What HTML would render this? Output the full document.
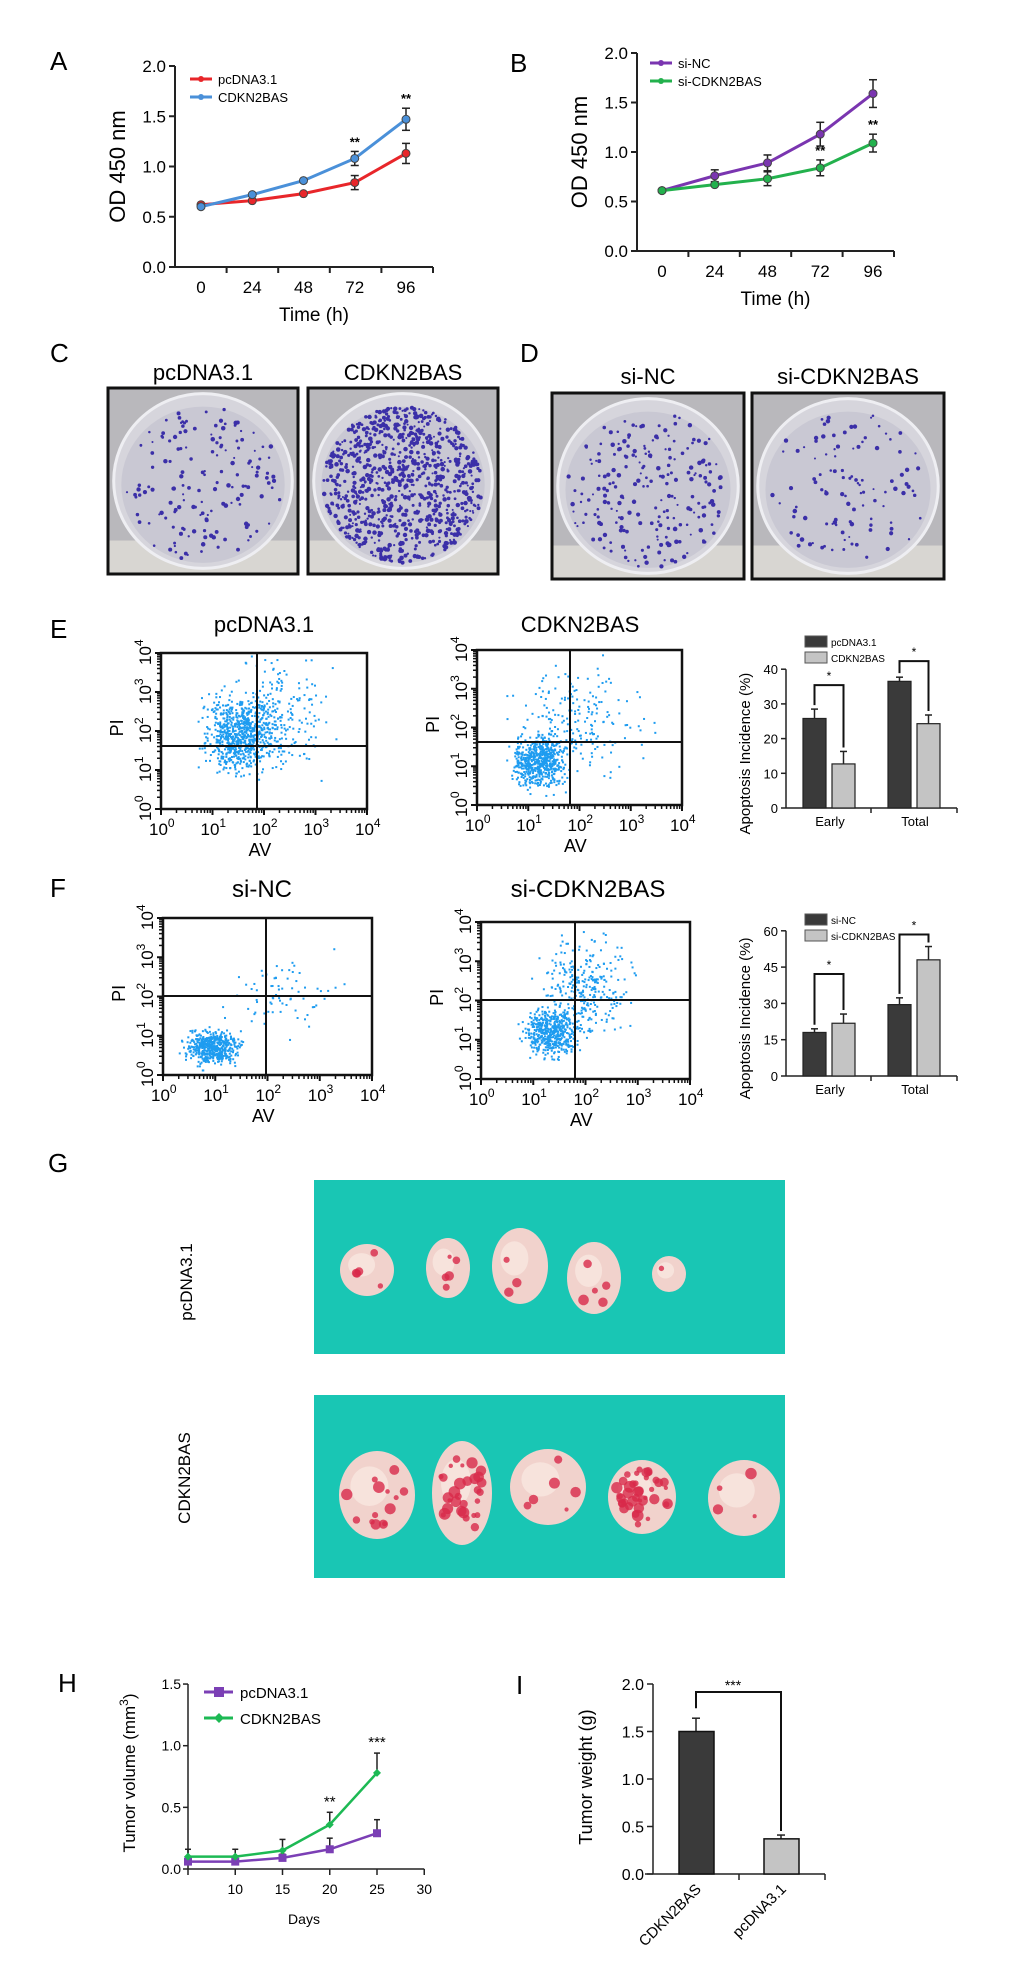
<!DOCTYPE html>
<html><head><meta charset="utf-8"><title>CDKN2BAS figure</title>
<style>
html,body{margin:0;padding:0;background:#fff;}
svg{display:block;font-family:"Liberation Sans",Arial,sans-serif;}
</style></head>
<body>
<svg id="fig" xmlns="http://www.w3.org/2000/svg" width="1020" height="1980" viewBox="0 0 1020 1980">
<rect x="0" y="0" width="1020" height="1980" fill="#fff"/>
<!-- panel letters -->
<text x="50" y="70" font-size="26">A</text>
<text x="510" y="72" font-size="26">B</text>
<text x="50" y="362" font-size="26">C</text>
<text x="520" y="362" font-size="26">D</text>
<text x="50" y="638" font-size="26">E</text>
<text x="50" y="897" font-size="26">F</text>
<text x="48" y="1172" font-size="26">G</text>
<text x="58" y="1692" font-size="26">H</text>
<text x="516" y="1694" font-size="26">I</text>

<!-- C/D titles -->
<text x="203" y="380" font-size="22" text-anchor="middle">pcDNA3.1</text>
<text x="403" y="380" font-size="22" text-anchor="middle">CDKN2BAS</text>
<text x="648" y="384" font-size="22" text-anchor="middle">si-NC</text>
<text x="848" y="384" font-size="22" text-anchor="middle">si-CDKN2BAS</text>
<g id="plates"></g>

<!-- E/F titles -->
<text x="264" y="632" font-size="22" text-anchor="middle">pcDNA3.1</text>
<text x="580" y="632" font-size="22" text-anchor="middle">CDKN2BAS</text>
<text x="262" y="897" font-size="24" text-anchor="middle">si-NC</text>
<text x="588" y="897" font-size="24" text-anchor="middle">si-CDKN2BAS</text>
<g id="flows"></g>

<!-- G photos -->
<text transform="translate(192,1282) rotate(-90)" font-size="17" text-anchor="middle">pcDNA3.1</text>
<text transform="translate(190,1478) rotate(-90)" font-size="17" text-anchor="middle">CDKN2BAS</text>
<rect x="314" y="1180" width="471" height="174" fill="#19c6b4"/>
<rect x="314" y="1395" width="471" height="183" fill="#19c6b4"/>
<g id="tumors"></g>

<g id="charts"></g>
</svg>
<script>
// ===== Data =====
const timeCats = [0, 24, 48, 72, 96];
const odPcdna = [0.62, 0.66, 0.73, 0.84, 1.13];
const odPcdnaErr = [0.02, 0.02, 0.02, 0.07, 0.10];
const odCdkn = [0.60, 0.72, 0.86, 1.08, 1.47];
const odCdknErr = [0.02, 0.02, 0.02, 0.07, 0.11];
const odSiNC = [0.61, 0.76, 0.89, 1.18, 1.59];
const odSiNCErr = [0.02, 0.06, 0.08, 0.12, 0.14];
const odSiCdkn = [0.61, 0.67, 0.73, 0.84, 1.09];
const odSiCdknErr = [0.02, 0.03, 0.07, 0.08, 0.09];
const odTicks = [0.0, 0.5, 1.0, 1.5, 2.0];

const apopCats = ["Early", "Total"];
const apopE_pcdna = [25.8, 36.5];
const apopE_pcdnaErr = [2.7, 1.2];
const apopE_cdkn = [12.7, 24.3];
const apopE_cdknErr = [3.6, 2.5];
const apopETicks = [0, 10, 20, 30, 40];
const apopF_siNC = [18.0, 29.5];
const apopF_siNCErr = [1.5, 2.8];
const apopF_siCdkn = [21.8, 48.0];
const apopF_siCdknErr = [3.8, 5.5];
const apopFTicks = [0, 15, 30, 45, 60];

const dayCats = [5, 10, 15, 20, 25];
const volPcdna = [0.06, 0.06, 0.09, 0.16, 0.29];
const volPcdnaErr = [0.0, 0.0, 0.03, 0.09, 0.11];
const volCdkn = [0.10, 0.10, 0.15, 0.36, 0.78];
const volCdknErr = [0.06, 0.06, 0.09, 0.10, 0.16];
const volTicks = [0.0, 0.5, 1.0, 1.5];
const dayTicks = [10, 15, 20, 25, 30];

const weightCats = ["CDKN2BAS", "pcDNA3.1"];
const weightVals = [1.50, 0.37];
const weightErr = [0.14, 0.04];
const weightTicks = [0.0, 0.5, 1.0, 1.5, 2.0];

// ===== helpers =====
const NS = "http://www.w3.org/2000/svg";
function mk(tag, attrs, parent, text) {
  const e = document.createElementNS(NS, tag);
  for (const k in attrs) e.setAttribute(k, attrs[k]);
  if (text !== undefined) e.textContent = text;
  (parent || document.getElementById('charts')).appendChild(e);
  return e;
}
let seed = 12345;
function rnd() { seed = (seed * 1103515245 + 12345) % 2147483648; return seed / 2147483648; }
function gauss() { return (rnd() + rnd() + rnd() - 1.5) / 0.5; }
const charts = document.getElementById('charts');

// ===== Line charts A & B =====
function lineChart(o) {
  const g = mk('g', {}, charts);
  
  
  const xs = t => o.x0 + t * o.xk;
  const ys = v => o.y0 - v * o.yk;
  const ya = mk('line', {x1: o.ax, y1: ys(2.0), x2: o.ax, y2: o.y0, stroke: '#222', 'stroke-width': 2}, g);
  
  
  const xa = mk('line', {x1: o.ax, y1: o.y0, x2: o.xEnd, y2: o.y0, stroke: '#222', 'stroke-width': 2}, g);
  
  
  odTicks.forEach(v => {
    mk('line', {x1: o.ax - 6, y1: ys(v), x2: o.ax, y2: ys(v), stroke: '#222', 'stroke-width': 2}, g);
    const t = mk('text', {x: o.ax - 9, y: ys(v) + 6, 'font-size': 17, 'text-anchor': 'end'}, g, v.toFixed(1));
    
    
  });
  const step = (o.xEnd - o.ax) / 5;
  for (let i = 1; i <= 5; i++) mk('line', {x1: o.ax + i * step, y1: o.y0, x2: o.ax + i * step, y2: o.y0 + 6, stroke: '#222', 'stroke-width': 2}, g);
  timeCats.forEach(t => {
    const l = mk('text', {x: xs(t), y: o.y0 + 26, 'font-size': 17, 'text-anchor': 'middle'}, g, String(t));
    
    
  });
  const xt = mk('text', {x: (o.ax + o.xEnd) / 2 + 10, y: o.y0 + 54, 'font-size': 19, 'text-anchor': 'middle'}, g, 'Time (h)');
  
  
  const yt = mk('text', {transform: `translate(${o.ax - 50},${(ys(2) + o.y0) / 2}) rotate(-90)`, 'font-size': 22, 'text-anchor': 'middle'}, g, 'OD 450 nm');
  
  
  o.series.forEach((s, si) => {
    const pts = timeCats.map((t, i) => [xs(t), ys(s.vals[i])]);
    const pl = mk('polyline', {points: pts.map(p => p.join(',')).join(' '), fill: 'none', stroke: s.color, 'stroke-width': 3}, g);
    
    
    timeCats.forEach((t, i) => {
      const x = xs(t), e = s.err[i];
      if (e > 0.03) {
        mk('line', {x1: x, y1: ys(s.vals[i] + e), x2: x, y2: ys(s.vals[i] - e), stroke: '#222', 'stroke-width': 1.5}, g);
        mk('line', {x1: x - 4, y1: ys(s.vals[i] + e), x2: x + 4, y2: ys(s.vals[i] + e), stroke: '#222', 'stroke-width': 1.5}, g);
        mk('line', {x1: x - 4, y1: ys(s.vals[i] - e), x2: x + 4, y2: ys(s.vals[i] - e), stroke: '#222', 'stroke-width': 1.5}, g);
      }
      const c = mk('circle', {cx: x, cy: ys(s.vals[i]), r: 4, fill: s.color, stroke: '#444', 'stroke-width': 1}, g);
      
      
    });
    const ly = o.legY + si * 18;
    mk('line', {x1: o.legX, y1: ly, x2: o.legX + 22, y2: ly, stroke: s.color, 'stroke-width': 3}, g);
    mk('circle', {cx: o.legX + 11, cy: ly, r: 3, fill: s.color}, g);
    const lt = mk('text', {x: o.legX + 28, y: ly + 5, 'font-size': 13}, g, s.label);
    
    
  });
  o.stars.forEach(i => {
    const s = o.series[o.starSeries];
    const st = mk('text', {x: xs(timeCats[i]), y: ys(s.vals[i] + s.err[i]) - 5, 'font-size': 13, 'text-anchor': 'middle', 'font-weight': 'bold'}, g, '**');
    
    
  });
}
lineChart({name: 'chart-a', ax: 175, xEnd: 433, x0: 201, xk: 205 / 96, y0: 267, yk: 100.5, legX: 190, legY: 79, starSeries: 1, stars: [3, 4],
  series: [{key: 'pcdna', label: 'pcDNA3.1', color: '#e8262a', vals: odPcdna, err: odPcdnaErr},
           {key: 'cdkn2bas', label: 'CDKN2BAS', color: '#4a90d9', vals: odCdkn, err: odCdknErr}]});
lineChart({name: 'chart-b', ax: 637, xEnd: 894, x0: 662, xk: 211 / 96, y0: 251, yk: 99, legX: 650, legY: 63, starSeries: 1, stars: [3, 4],
  series: [{key: 'si-nc', label: 'si-NC', color: '#7a35b0', vals: odSiNC, err: odSiNCErr},
           {key: 'si-cdkn2bas', label: 'si-CDKN2BAS', color: '#23b14d', vals: odSiCdkn, err: odSiCdknErr}]});

// ===== Colony plates =====
const plates = document.getElementById('plates');
function plate(x, y, w, h, n, name) {
  const g = mk('g', {}, plates);
  
  
  mk('rect', {x: x, y: y, width: w, height: h, fill: '#b9b8bc'}, g);
  mk('rect', {x: x, y: y + h * 0.82, width: w, height: h * 0.18, fill: '#d8d6d2'}, g);
  mk('ellipse', {cx: x + w / 2, cy: y + h * 0.5, rx: w * 0.47, ry: h * 0.47, fill: '#d6d5dc', stroke: '#eeeef2', 'stroke-width': 3}, g);
  mk('ellipse', {cx: x + w / 2, cy: y + h * 0.52, rx: w * 0.43, ry: h * 0.42, fill: '#c9c8d3'}, g);
  for (let i = 0; i < n; i++) {
    const a = rnd() * 6.283, r = Math.sqrt(rnd()) * 0.42;
    mk('circle', {cx: x + w / 2 + Math.cos(a) * r * w, cy: y + h * 0.52 + Math.sin(a) * r * h, r: 1 + rnd() * 1.3, fill: '#3b2fa8'}, g);
  }
  mk('rect', {x: x, y: y, width: w, height: h, fill: 'none', stroke: '#111', 'stroke-width': 3}, g);
}
plate(108, 388, 190, 186, 160, 'colony-plate-pcdna');
plate(308, 388, 190, 186, 900, 'colony-plate-cdkn2bas');
plate(552, 393, 192, 186, 220, 'colony-plate-si-nc');
plate(752, 393, 192, 186, 110, 'colony-plate-si-cdkn2bas');

// ===== Flow plots =====
const flows = document.getElementById('flows');
function sup(parent, x, y, exp, attrs) {
  const t = mk('text', Object.assign({x: x, y: y, 'font-size': 17}, attrs || {}), parent);
  const a = mk('tspan', {}, t, '10');
  const b = mk('tspan', {dy: -8, 'font-size': 12}, t, String(exp));
  return t;
}
function flow(o) {
  const g = mk('g', {}, flows);
  
  
  const {x, y, w, h} = o;
  // clouds
  o.clouds.forEach(c => {
    for (let i = 0; i < c.n; i++) {
      const px = x + w * (c.cx + gauss() * c.sx), py = y + h * (c.cy + gauss() * c.sy);
      if (px < x + 2 || px > x + w - 2 || py < y + 2 || py > y + h - 2) continue;
      mk('rect', {x: px, y: py, width: 2, height: 2, fill: '#1e9cf0'}, g);
    }
  });
  mk('rect', {x: x, y: y, width: w, height: h, fill: 'none', stroke: '#111', 'stroke-width': 2.5}, g);
  mk('line', {x1: x, y1: o.hy, x2: x + w, y2: o.hy, stroke: '#111', 'stroke-width': 2}, g);
  mk('line', {x1: o.vx, y1: y, x2: o.vx, y2: y + h, stroke: '#111', 'stroke-width': 2}, g);
  for (let k = 0; k <= 4; k++) {
    const tx = x + w * k / 4, ty = y + h - h * k / 4;
    mk('line', {x1: tx, y1: y + h, x2: tx, y2: y + h + 6, stroke: '#111', 'stroke-width': 2}, g);
    mk('line', {x1: x - 6, y1: ty, x2: x, y2: ty, stroke: '#111', 'stroke-width': 2}, g);
    if (k < 4) for (let m = 2; m <= 9; m++) {
      const f = Math.log10(m) / 4;
      mk('line', {x1: x + w * (k / 4 + f), y1: y + h, x2: x + w * (k / 4 + f), y2: y + h + 4, stroke: '#111', 'stroke-width': 1.5}, g);
      mk('line', {x1: x - 4, y1: y + h - h * (k / 4 + f), x2: x, y2: y + h - h * (k / 4 + f), stroke: '#111', 'stroke-width': 1.5}, g);
    }
    const xl = sup(g, tx - 12, y + h + 26, k);
    
    
    const yl = sup(g, 0, 0, k, {transform: `translate(${x - 10},${ty + 12}) rotate(-90)`});
    
    
  }
  const av = mk('text', {x: x + w * 0.48, y: y + h + 47, 'font-size': 18, 'text-anchor': 'middle'}, g, 'AV');
  
  
  const pi = mk('text', {transform: `translate(${x - 38},${y + h * 0.48}) rotate(-90)`, 'font-size': 18, 'text-anchor': 'middle'}, g, 'PI');
  
  
}
flow({name: 'flow-pcdna', x: 161, y: 653, w: 206, h: 156, hy: 746, vx: 257,
  clouds: [{n: 700, cx: 0.38, cy: 0.52, sx: 0.08, sy: 0.11}, {n: 250, cx: 0.55, cy: 0.4, sx: 0.12, sy: 0.17}]});
flow({name: 'flow-cdkn2bas', x: 477, y: 650, w: 205, h: 155, hy: 742, vx: 570,
  clouds: [{n: 600, cx: 0.3, cy: 0.72, sx: 0.06, sy: 0.08}, {n: 200, cx: 0.5, cy: 0.45, sx: 0.14, sy: 0.17}]});
flow({name: 'flow-si-nc', x: 163, y: 918, w: 209, h: 157, hy: 996, vx: 266,
  clouds: [{n: 500, cx: 0.24, cy: 0.82, sx: 0.06, sy: 0.05}, {n: 70, cx: 0.55, cy: 0.45, sx: 0.13, sy: 0.12}]});
flow({name: 'flow-si-cdkn2bas', x: 481, y: 922, w: 209, h: 157, hy: 1000, vx: 575,
  clouds: [{n: 500, cx: 0.33, cy: 0.7, sx: 0.06, sy: 0.07}, {n: 300, cx: 0.5, cy: 0.42, sx: 0.1, sy: 0.14}]});

// ===== Bar charts E & F =====
function apopChart(o) {
  const g = mk('g', {}, charts);
  
  
  const ys = v => o.y0 - v * o.yk;
  const top = o.ticks[o.ticks.length - 1];
  mk('line', {x1: 786, y1: ys(top), x2: 786, y2: o.y0, stroke: '#222', 'stroke-width': 1.5}, g);
  mk('line', {x1: 786, y1: o.y0, x2: 957, y2: o.y0, stroke: '#222', 'stroke-width': 1.5}, g);
  [871, 957].forEach(tx => mk('line', {x1: tx, y1: o.y0, x2: tx, y2: o.y0 + 5, stroke: '#222', 'stroke-width': 1.5}, g));
  o.ticks.forEach(v => {
    mk('line', {x1: 781, y1: ys(v), x2: 786, y2: ys(v), stroke: '#222', 'stroke-width': 1.5}, g);
    const t = mk('text', {x: 778, y: ys(v) + 5, 'font-size': 13, 'text-anchor': 'end'}, g, String(v));
    
    
  });
  const yt = mk('text', {transform: `translate(750,${(ys(top) + o.y0) / 2 + 15}) rotate(-90)`, 'font-size': 15, 'text-anchor': 'middle'}, g, 'Apoptosis Incidence (%)');
  
  
  const centers = [829, 914];
  apopCats.forEach((c, i) => {
    const cl = mk('text', {x: centers[i] + 1, y: o.y0 + 18, 'font-size': 13, 'text-anchor': 'middle'}, g, c);
    
    
    const vals = [[o.a[i], o.aErr[i], '#3a3a3a', -26, 'dark'], [o.b[i], o.bErr[i], '#c4c4c4', 3, 'light']];
    vals.forEach(([v, e, col, dx, nm]) => {
      const bx = centers[i] + dx;
      mk('line', {x1: bx + 11.5, y1: ys(v + e), x2: bx + 11.5, y2: ys(v), stroke: '#222', 'stroke-width': 1.5}, g);
      mk('line', {x1: bx + 8, y1: ys(v + e), x2: bx + 15, y2: ys(v + e), stroke: '#222', 'stroke-width': 1.5}, g);
      const r = mk('rect', {x: bx, y: ys(v), width: 23, height: o.y0 - ys(v), fill: col, stroke: '#222', 'stroke-width': 1.2}, g);
      
      
    });
    // bracket
    const hi = Math.max(o.a[i] + o.aErr[i], o.b[i] + o.bErr[i]);
    const by = ys(hi) - o.brk[i];
    const x1 = centers[i] - 14.5, x2 = centers[i] + 14.5;
    mk('polyline', {points: `${x1},${ys(o.a[i] + o.aErr[i]) - 4} ${x1},${by} ${x2},${by} ${x2},${ys(o.b[i] + o.bErr[i]) - 4}`, fill: 'none', stroke: '#111', 'stroke-width': 2}, g);
    const st = mk('text', {x: centers[i], y: by - 5, 'font-size': 12, 'text-anchor': 'middle'}, g, '*');
    
    
  });
  o.legend.forEach((lab, i) => {
    mk('rect', {x: 805, y: o.legY + i * 16, width: 22, height: 11, fill: i ? '#c4c4c4' : '#3a3a3a', stroke: '#555', 'stroke-width': 1}, g);
    const lt = mk('text', {x: 831, y: o.legY + i * 16 + 10, 'font-size': 10}, g, lab);
    
    
  });
}
apopChart({name: 'chart-e-apoptosis', y0: 808, yk: 3.47, ticks: apopETicks, a: apopE_pcdna, aErr: apopE_pcdnaErr, b: apopE_cdkn, bErr: apopE_cdknErr,
  brk: [24, 16], legend: ['pcDNA3.1', 'CDKN2BAS'], legY: 636});
apopChart({name: 'chart-f-apoptosis', y0: 1076, yk: 2.42, ticks: apopFTicks, a: apopF_siNC, aErr: apopF_siNCErr, b: apopF_siCdkn, bErr: apopF_siCdknErr,
  brk: [40, 12], legend: ['si-NC', 'si-CDKN2BAS'], legY: 914});

// ===== Tumors (G) =====
const tumors = document.getElementById('tumors');
function tumor(cx, cy, rx, ry, red, name) {
  const g = mk('g', {}, tumors);
  
  
  mk('ellipse', {cx: cx, cy: cy, rx: rx, ry: ry, fill: '#f1d2cc'}, g);
  mk('ellipse', {cx: cx - rx * 0.2, cy: cy - ry * 0.2, rx: rx * 0.5, ry: ry * 0.45, fill: '#f7e3dc'}, g);
  for (let i = 0; i < red; i++) {
    const a = rnd() * 6.283, r = Math.sqrt(rnd()) * 0.8;
    mk('circle', {cx: cx + Math.cos(a) * r * rx, cy: cy + Math.sin(a) * r * ry, r: 2 + rnd() * 4, fill: '#d8294a', opacity: 0.8}, g);
  }
}
tumor(367, 1270, 27, 26, 5, 'tumor-pcdna-1');
tumor(448, 1268, 22, 30, 5, 'tumor-pcdna-2');
tumor(520, 1266, 28, 38, 3, 'tumor-pcdna-3');
tumor(594, 1278, 27, 36, 5, 'tumor-pcdna-4');
tumor(669, 1274, 17, 18, 1, 'tumor-pcdna-5');
tumor(377, 1495, 38, 44, 14, 'tumor-cdkn2bas-1');
tumor(462, 1493, 30, 52, 30, 'tumor-cdkn2bas-2');
tumor(548, 1487, 38, 38, 6, 'tumor-cdkn2bas-3');
tumor(642, 1497, 34, 37, 40, 'tumor-cdkn2bas-4');
tumor(744, 1498, 36, 38, 4, 'tumor-cdkn2bas-5');

// ===== H: tumor volume =====
(function () {
  const g = mk('g', {}, charts);
  
  
  const xs = d => 188 + (d - 5) * 9.45;
  const ys = v => 1869 - v * 123.3;
  mk('line', {x1: 188, y1: ys(1.5), x2: 188, y2: 1869, stroke: '#222', 'stroke-width': 1.5}, g);
  mk('line', {x1: 188, y1: 1869, x2: xs(30), y2: 1869, stroke: '#222', 'stroke-width': 1.5}, g);
  volTicks.forEach(v => {
    mk('line', {x1: 183, y1: ys(v), x2: 188, y2: ys(v), stroke: '#222', 'stroke-width': 1.5}, g);
    const t = mk('text', {x: 181, y: ys(v) + 5, 'font-size': 14, 'text-anchor': 'end'}, g, v.toFixed(1));
    
    
  });
  mk('line', {x1: 188, y1: 1869, x2: 188, y2: 1875, stroke: '#222', 'stroke-width': 1.5}, g);
  dayTicks.forEach(d => {
    mk('line', {x1: xs(d), y1: 1869, x2: xs(d), y2: 1875, stroke: '#222', 'stroke-width': 1.5}, g);
    const t = mk('text', {x: xs(d), y: 1894, 'font-size': 14, 'text-anchor': 'middle'}, g, String(d));
    
    
  });
  const xt = mk('text', {x: 304, y: 1924, 'font-size': 14, 'text-anchor': 'middle'}, g, 'Days');
  
  
  const yt = mk('text', {transform: 'translate(135,1773) rotate(-90)', 'font-size': 17, 'text-anchor': 'middle'}, g);
  
  
  mk('tspan', {}, yt, 'Tumor volume (mm');
  mk('tspan', {dy: -7, 'font-size': 12}, yt, '3');
  mk('tspan', {dy: 7}, yt, ')');
  const series = [{key: 'pcdna', label: 'pcDNA3.1', color: '#7b3fb5', vals: volPcdna, err: volPcdnaErr, shape: 'sq'},
                  {key: 'cdkn2bas', label: 'CDKN2BAS', color: '#1db954', vals: volCdkn, err: volCdknErr, shape: 'dm'}];
  series.forEach((s, si) => {
    dayCats.forEach((d, i) => {
      if (s.err[i] > 0) {
        mk('line', {x1: xs(d), y1: ys(s.vals[i] + s.err[i]), x2: xs(d), y2: ys(s.vals[i]), stroke: '#222', 'stroke-width': 1.5}, g);
        mk('line', {x1: xs(d) - 3, y1: ys(s.vals[i] + s.err[i]), x2: xs(d) + 3, y2: ys(s.vals[i] + s.err[i]), stroke: '#222', 'stroke-width': 1.5}, g);
      }
    });
    const pl = mk('polyline', {points: dayCats.map((d, i) => xs(d) + ',' + ys(s.vals[i])).join(' '), fill: 'none', stroke: s.color, 'stroke-width': 2.5}, g);
    
    
    dayCats.forEach((d, i) => {
      const x = xs(d), y = ys(s.vals[i]);
      const m = s.shape === 'sq' ? mk('rect', {x: x - 4, y: y - 4, width: 8, height: 8, fill: s.color}, g)
                                 : mk('polygon', {points: `${x},${y - 4} ${x + 4},${y} ${x},${y + 4} ${x - 4},${y}`, fill: s.color}, g);
      
      
    });
    const ly = 1692 + si * 26;
    mk('line', {x1: 204, y1: ly, x2: 233, y2: ly, stroke: s.color, 'stroke-width': 3}, g);
    if (s.shape === 'sq') mk('rect', {x: 214, y: ly - 5, width: 10, height: 10, fill: s.color}, g);
    else mk('polygon', {points: `219,${ly - 5} 224,${ly} 219,${ly + 5} 214,${ly}`, fill: s.color}, g);
    const lt = mk('text', {x: 240, y: ly + 6, 'font-size': 15}, g, s.label);
    
    
  });
  [[3, '**'], [4, '***']].forEach(([i, s]) => {
    const t = mk('text', {x: xs(dayCats[i]), y: ys(volCdkn[i] + volCdknErr[i]) - 6, 'font-size': 15, 'text-anchor': 'middle'}, g, s);
    
    
  });
})();

// ===== I: tumor weight =====
(function () {
  const g = mk('g', {}, charts);
  
  
  const ys = v => 1874 - v * 95;
  mk('line', {x1: 653, y1: ys(2), x2: 653, y2: 1874, stroke: '#222', 'stroke-width': 1.5}, g);
  mk('line', {x1: 645, y1: 1874, x2: 825, y2: 1874, stroke: '#222', 'stroke-width': 1.5}, g);
  [739, 825].forEach(tx => mk('line', {x1: tx, y1: 1874, x2: tx, y2: 1880, stroke: '#222', 'stroke-width': 1.5}, g));
  weightTicks.forEach(v => {
    mk('line', {x1: 647, y1: ys(v), x2: 653, y2: ys(v), stroke: '#222', 'stroke-width': 1.5}, g);
    const t = mk('text', {x: 644, y: ys(v) + 6, 'font-size': 16, 'text-anchor': 'end'}, g, v.toFixed(1));
    
    
  });
  const yt = mk('text', {transform: 'translate(592,1777) rotate(-90)', 'font-size': 18, 'text-anchor': 'middle'}, g, 'Tumor weight (g)');
  
  
  const xc = [696, 781];
  const cols = ['#3a3a3a', '#c4c4c4'];
  weightCats.forEach((c, i) => {
    const v = weightVals[i], e = weightErr[i];
    mk('line', {x1: xc[i], y1: ys(v + e), x2: xc[i], y2: ys(v), stroke: '#222', 'stroke-width': 1.5}, g);
    mk('line', {x1: xc[i] - 4, y1: ys(v + e), x2: xc[i] + 4, y2: ys(v + e), stroke: '#222', 'stroke-width': 1.5}, g);
    const r = mk('rect', {x: xc[i] - 17, y: ys(v), width: 35, height: 1874 - ys(v), fill: cols[i], stroke: '#111', 'stroke-width': 1.5}, g);
    
    
    const t = mk('text', {transform: `translate(${xc[i] + 6},1890) rotate(-45)`, 'font-size': 15, 'text-anchor': 'end'}, g, c);
    
    
  });
  mk('polyline', {points: `${xc[0]},${ys(weightVals[0] + weightErr[0]) - 10} ${xc[0]},1692 ${xc[1]},1692 ${xc[1]},${ys(weightVals[1] + weightErr[1]) - 4}`, fill: 'none', stroke: '#111', 'stroke-width': 2}, g);
  const st = mk('text', {x: 733, y: 1690, 'font-size': 14, 'text-anchor': 'middle'}, g, '***');
  
  
})();
</script>
</body></html>
